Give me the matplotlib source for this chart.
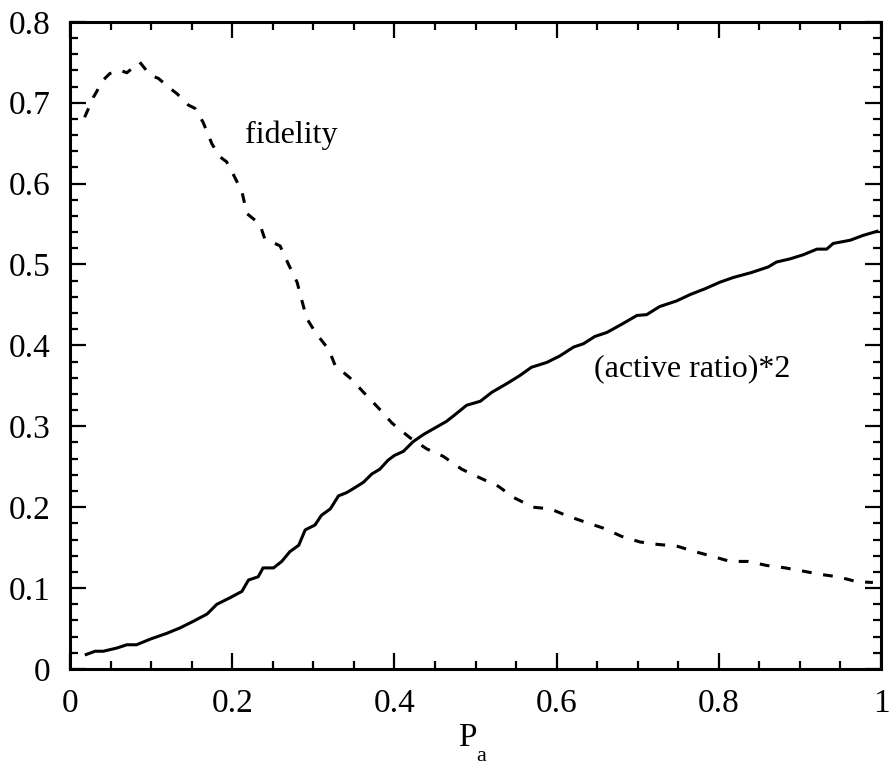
import numpy as np
import matplotlib
matplotlib.use("Agg")
import matplotlib.pyplot as plt
from matplotlib.ticker import MultipleLocator

pa_fid = [0.018, 0.029, 0.041, 0.049, 0.062, 0.070, 0.086, 0.099, 0.109, 0.123,
          0.132, 0.146, 0.154, 0.164, 0.175, 0.185, 0.193, 0.201, 0.212, 0.218,
          0.234, 0.240, 0.259, 0.269, 0.280, 0.286, 0.292, 0.304, 0.319, 0.327,
          0.345, 0.362, 0.380, 0.397, 0.419, 0.440, 0.460, 0.483, 0.506, 0.528,
          0.547, 0.571, 0.592, 0.614, 0.637, 0.658, 0.680, 0.703, 0.725, 0.748,
          0.771, 0.793, 0.814, 0.836, 0.859, 0.882, 0.904, 0.925, 0.947, 0.970,
          0.990]
fidelity = [0.682, 0.707, 0.728, 0.736, 0.740, 0.737, 0.750, 0.734, 0.730, 0.718,
            0.711, 0.697, 0.693, 0.676, 0.649, 0.633, 0.627, 0.612, 0.590, 0.563,
            0.550, 0.532, 0.523, 0.501, 0.478, 0.455, 0.433, 0.414, 0.395, 0.375,
            0.360, 0.342, 0.323, 0.304, 0.286, 0.272, 0.263, 0.247, 0.236, 0.226,
            0.212, 0.200, 0.198, 0.189, 0.181, 0.174, 0.164, 0.157, 0.154, 0.152,
            0.145, 0.139, 0.133, 0.133, 0.128, 0.125, 0.121, 0.117, 0.114, 0.108,
            0.107]

pa_act = [0.020, 0.031, 0.041, 0.058, 0.070, 0.082, 0.099, 0.119, 0.136, 0.152,
          0.169, 0.181, 0.197, 0.212, 0.220, 0.232, 0.238, 0.251, 0.261, 0.271,
          0.282, 0.290, 0.302, 0.310, 0.321, 0.331, 0.341, 0.351, 0.362, 0.372,
          0.382, 0.392, 0.400, 0.411, 0.423, 0.436, 0.450, 0.464, 0.473, 0.489,
          0.506, 0.520, 0.539, 0.555, 0.569, 0.588, 0.604, 0.621, 0.633, 0.647,
          0.662, 0.680, 0.699, 0.711, 0.727, 0.748, 0.765, 0.783, 0.801, 0.818,
          0.840, 0.861, 0.871, 0.888, 0.904, 0.921, 0.933, 0.941, 0.962, 0.978,
          0.995]
active2 = [0.018, 0.022, 0.022, 0.026, 0.030, 0.030, 0.037, 0.044, 0.051, 0.059,
           0.068, 0.080, 0.088, 0.096, 0.110, 0.114, 0.125, 0.125, 0.133, 0.145,
           0.153, 0.172, 0.178, 0.190, 0.198, 0.214, 0.218, 0.224, 0.231, 0.241,
           0.247, 0.258, 0.264, 0.269, 0.281, 0.290, 0.298, 0.306, 0.313, 0.326,
           0.331, 0.342, 0.353, 0.363, 0.373, 0.379, 0.387, 0.398, 0.402, 0.411,
           0.416, 0.426, 0.437, 0.438, 0.448, 0.455, 0.463, 0.470, 0.478, 0.484,
           0.490, 0.497, 0.503, 0.507, 0.512, 0.519, 0.519, 0.526, 0.530, 0.536,
           0.541]

xticks = [0, 0.2, 0.4, 0.6, 0.8, 1]
xtick_labels = ['0', '0.2', '0.4', '0.6', '0.8', '1']
yticks = [0, 0.1, 0.2, 0.3, 0.4, 0.5, 0.6, 0.7, 0.8]
ytick_labels = ['0', '0.1', '0.2', '0.3', '0.4', '0.5', '0.6', '0.7', '0.8']

plt.rcParams['font.family'] = ['Liberation Serif', 'DejaVu Serif']
plt.rcParams['font.size'] = 24

fig = plt.figure(figsize=(8.91, 7.64), dpi=100)
ax = fig.add_axes([0.0786, 0.1243, 0.9102, 0.8472])

ax.plot(pa_fid, fidelity, color='black', lw=2.2, ls=(0, (3.2, 3.8)))
ax.plot(pa_act, active2, color='black', lw=2.2)

ax.text(0.216, 0.650, 'fidelity', va='baseline', ha='left', fontsize=23)
ax.text(0.646, 0.362, '(active ratio)*2', va='baseline', ha='left', fontsize=23)

ax.set_xlim(0, 1)
ax.set_ylim(0, 0.8)
ax.set_xticks(xticks)
ax.set_xticklabels(xtick_labels)
ax.set_yticks(yticks)
ax.set_yticklabels(ytick_labels)
ax.xaxis.set_minor_locator(MultipleLocator(0.05))
ax.yaxis.set_minor_locator(MultipleLocator(0.02))
ax.tick_params(which='both', direction='in', top=True, right=True, width=1.6)
ax.tick_params(which='major', length=11.5, pad=14)
ax.tick_params(which='minor', length=6)
for s in ax.spines.values():
    s.set_linewidth(2.2)

ax.set_xlabel('P', fontsize=24)
ax.xaxis.set_label_coords(0.4895, -0.082)
ax.text(0.507, -0.1415, 'a', transform=ax.transAxes, ha='center', va='baseline', fontsize=16)

fig.savefig('out.png', dpi=100)
